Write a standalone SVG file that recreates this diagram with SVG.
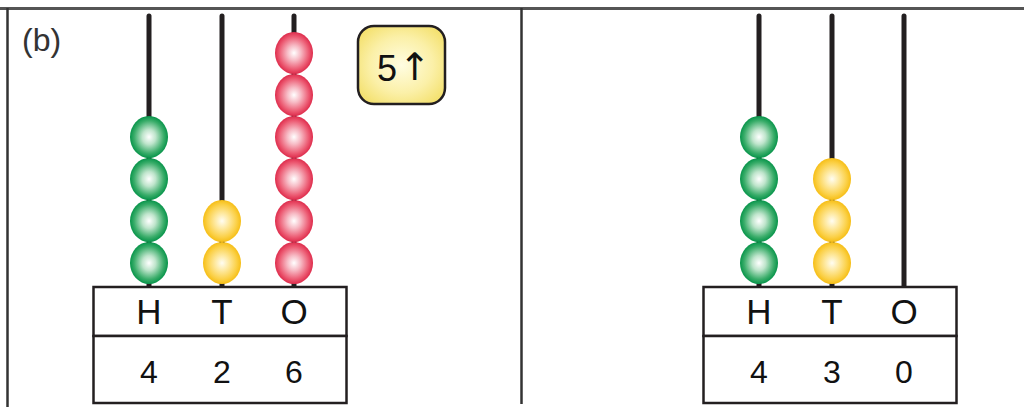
<svg xmlns="http://www.w3.org/2000/svg" width="1024" height="407" viewBox="0 0 1024 407">
  <defs>
    <radialGradient id="gGreen" cx="0.5" cy="0.5" r="0.5">
      <stop offset="0" stop-color="#ffffff"/>
      <stop offset="0.35" stop-color="#bfe5cc"/>
      <stop offset="0.78" stop-color="#3aad6a"/>
      <stop offset="1" stop-color="#07944a"/>
    </radialGradient>
    <radialGradient id="gRed" cx="0.5" cy="0.5" r="0.5">
      <stop offset="0" stop-color="#ffffff"/>
      <stop offset="0.35" stop-color="#f7bcc6"/>
      <stop offset="0.78" stop-color="#ec5a72"/>
      <stop offset="1" stop-color="#de2c4c"/>
    </radialGradient>
    <radialGradient id="gYellow" cx="0.5" cy="0.5" r="0.5">
      <stop offset="0" stop-color="#fffdf2"/>
      <stop offset="0.35" stop-color="#feeaa4"/>
      <stop offset="0.78" stop-color="#fbd046"/>
      <stop offset="1" stop-color="#f6be16"/>
    </radialGradient>
    <radialGradient id="gTag" cx="0.5" cy="0.5" r="0.6">
      <stop offset="0" stop-color="#fffde2"/>
      <stop offset="0.6" stop-color="#fbf0a8"/>
      <stop offset="1" stop-color="#f4e170"/>
    </radialGradient>
  </defs>
  <style>
    .frame { stroke: #333333; stroke-width: 2.5; fill: none; }
    .topline { stroke: #555555; stroke-width: 3; }
    .rod { stroke: #231f20; stroke-width: 5; stroke-linecap: round; }
    .box { fill: #ffffff; stroke: #231f20; stroke-width: 2.5; }
    .lbl { font-family: "Liberation Sans", Arial, sans-serif; font-size: 35px; fill: #111111; text-anchor: middle; }
    .num { font-family: "Liberation Sans", Arial, sans-serif; font-size: 32px; fill: #111111; text-anchor: middle; }
    .g { fill: url(#gGreen); }
    .r { fill: url(#gRed); }
    .y { fill: url(#gYellow); }
  </style>

  <!-- frame -->
  <g id="frame">
    <line class="topline" x1="0" y1="8.5" x2="1024" y2="8.5"/>
    <line class="frame" x1="7.5" y1="8" x2="7.5" y2="407"/>
    <line class="frame" x1="521.5" y1="8" x2="521.5" y2="404" stroke-width="3"/>
    <text x="22" y="51" font-family="'Liberation Sans', Arial, sans-serif" font-size="32" fill="#333333">(b)</text>
  </g>

  <!-- left abacus: 426 -->
  <g id="abacus-left">
    <line class="rod" x1="149" y1="16" x2="149" y2="287"/>
    <line class="rod" x1="222" y1="16" x2="222" y2="287"/>
    <line class="rod" x1="294" y1="16" x2="294" y2="287"/>
    <g id="left-hundreds">
      <ellipse class="g" cx="149" cy="137" rx="19" ry="21"/>
      <ellipse class="g" cx="149" cy="179" rx="19" ry="21"/>
      <ellipse class="g" cx="149" cy="221" rx="19" ry="21"/>
      <ellipse class="g" cx="149" cy="263" rx="19" ry="21"/>
    </g>
    <g id="left-tens">
      <ellipse class="y" cx="222" cy="221" rx="19" ry="21"/>
      <ellipse class="y" cx="222" cy="263" rx="19" ry="21"/>
    </g>
    <g id="left-ones">
      <ellipse class="r" cx="294" cy="53" rx="19" ry="21"/>
      <ellipse class="r" cx="294" cy="95" rx="19" ry="21"/>
      <ellipse class="r" cx="294" cy="137" rx="19" ry="21"/>
      <ellipse class="r" cx="294" cy="179" rx="19" ry="21"/>
      <ellipse class="r" cx="294" cy="221" rx="19" ry="21"/>
      <ellipse class="r" cx="294" cy="263" rx="19" ry="21"/>
    </g>
    <rect class="box" x="93.5" y="287" width="253" height="49"/>
    <rect class="box" x="93.5" y="336" width="253" height="67"/>
    <text class="lbl" x="149" y="324">H</text>
    <text class="lbl" x="222" y="324">T</text>
    <text class="lbl" x="294" y="324">O</text>
    <text class="num" x="149" y="383">4</text>
    <text class="num" x="222" y="383">2</text>
    <text class="num" x="294" y="383">6</text>
  </g>

  <!-- tag: 5 up -->
  <g id="tag">
    <rect x="358" y="26" width="87" height="78" rx="16" ry="16" fill="url(#gTag)" stroke="#231f20" stroke-width="2.5"/>
    <text x="387" y="81" font-family="'Liberation Sans', Arial, sans-serif" font-size="36" fill="#111111" text-anchor="middle">5</text>
    <text x="415" y="80" font-family="'DejaVu Sans', sans-serif" font-size="38" fill="#111111" text-anchor="middle">↑</text>
  </g>

  <!-- right abacus: 430 -->
  <g id="abacus-right">
    <line class="rod" x1="759" y1="16" x2="759" y2="287"/>
    <line class="rod" x1="832" y1="16" x2="832" y2="287"/>
    <line class="rod" x1="904" y1="16" x2="904" y2="287"/>
    <g id="right-hundreds">
      <ellipse class="g" cx="759" cy="137" rx="19" ry="21"/>
      <ellipse class="g" cx="759" cy="179" rx="19" ry="21"/>
      <ellipse class="g" cx="759" cy="221" rx="19" ry="21"/>
      <ellipse class="g" cx="759" cy="263" rx="19" ry="21"/>
    </g>
    <g id="right-tens">
      <ellipse class="y" cx="832" cy="179" rx="19" ry="21"/>
      <ellipse class="y" cx="832" cy="221" rx="19" ry="21"/>
      <ellipse class="y" cx="832" cy="263" rx="19" ry="21"/>
    </g>
    <rect class="box" x="703.5" y="287" width="253" height="49"/>
    <rect class="box" x="703.5" y="336" width="253" height="67"/>
    <text class="lbl" x="759" y="324">H</text>
    <text class="lbl" x="832" y="324">T</text>
    <text class="lbl" x="904" y="324">O</text>
    <text class="num" x="759" y="383">4</text>
    <text class="num" x="832" y="383">3</text>
    <text class="num" x="904" y="383">0</text>
  </g>
</svg>
